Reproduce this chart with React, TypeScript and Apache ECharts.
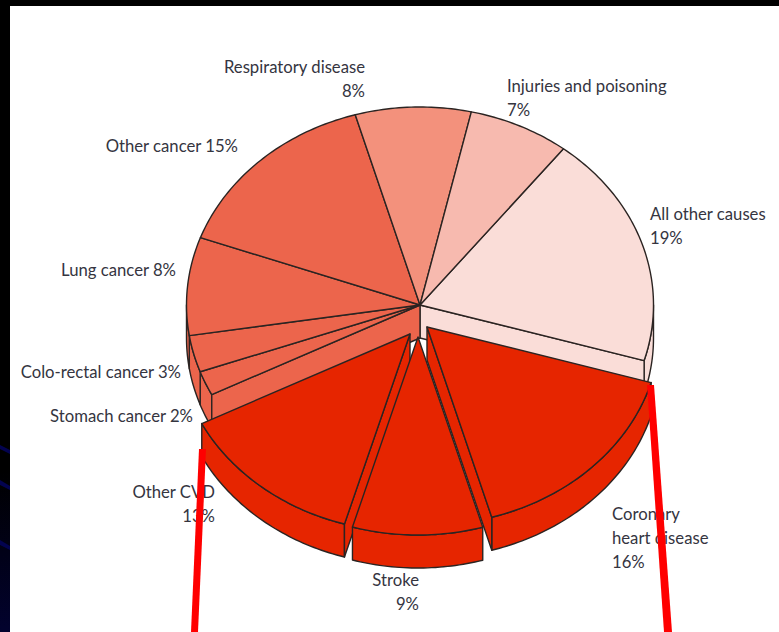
import React, { useEffect, useRef } from "react";
import * as echarts from "echarts";

// Share of deaths by cause, clockwise from the top-right slice.
const causes = [
  "All other causes",
  "Coronary\nheart disease",
  "Stroke",
  "Other CVD",
  "Stomach cancer",
  "Colo-rectal cancer",
  "Lung cancer",
  "Other cancer",
  "Respiratory disease",
  "Injuries and poisoning",
];
const shares = [19, 16, 9, 13, 2, 3, 8, 15, 8, 7];
const sliceColors = [
  "#FADDD8", "#E62500", "#E62500", "#E62500", "#EC654C",
  "#EC654C", "#EC654C", "#EC654C", "#F3917C", "#F7BAAF",
];
const separators = ["\n", "\n", "\n", "\n", " ", " ", " ", " ", "\n", "\n"];

// Screen offset of each pulled-out slice; the others stay in place.
const pulledOut: Record<number, [number, number]> = {
  1: [7, 22],
  2: [-2, 32],
  3: [-10, 29],
};

// Label anchors: x, vertical centre of the first line, alignment.
const labelAnchors: [number, number, string][] = [
  [650, 214, "left"],
  [612, 514, "left"],
  [419, 580, "right"],
  [215, 492, "right"],
  [193, 416, "right"],
  [181, 372, "right"],
  [176, 270, "right"],
  [238, 146, "right"],
  [365, 67, "right"],
  [507, 86, "left"],
];

const CX = 420;
const CY = 305;
const RX = 233.5;
const RY = 198;
const DEPTH = 33;
const FIRST_ANGLE = 37.9; // degrees clockwise from the top
const EDGE = "#2b2422";
const TEXT = "#35353f";

const total = shares.reduce((a, b) => a + b, 0);
const startAngles = shares.map(
  (_, i) => FIRST_ANGLE + (shares.slice(0, i).reduce((a, b) => a + b, 0) / total) * 360
);

type Pt = [number, number];
const rimPoint = (deg: number, ox: number, oy: number): Pt => {
  const t = (deg * Math.PI) / 180;
  return [CX + ox + RX * Math.sin(t), CY + oy - RY * Math.cos(t)];
};
const arcPoints = (from: number, to: number, ox: number, oy: number): Pt[] => {
  const n = Math.max(2, Math.ceil(Math.abs(to - from)));
  return Array.from({ length: n + 1 }, (_, k) =>
    rimPoint(from + ((to - from) * k) / n, ox, oy)
  );
};

const poly = (points: Pt[], fill: string, z2: number) => ({
  type: "polygon",
  shape: { points },
  z2,
  style: { fill, stroke: EDGE, lineWidth: 1.4, lineJoin: "round" },
});

// One slice: outer wall, visible cut faces and top face, all from its share.
function renderSlice(_params: any, api: any) {
  const i = _params.dataIndex;
  const share = api.value(0);
  const a0 = startAngles[i];
  const a1 = a0 + (share / total) * 360;
  const [ox, oy] = pulledOut[i] ?? [0, 0];
  const isOut = i in pulledOut;
  const z = isOut ? (i === 2 ? 30 : 20) : 2;
  const fill = sliceColors[i];
  const apex: Pt = [CX + ox, CY + oy];
  const children: any[] = [];

  // Only the lower half of the rim wall faces the viewer.
  const w0 = Math.max(a0, 90);
  const w1 = Math.min(a1, 270);
  if (w1 > w0) {
    const top = arcPoints(w0, w1, ox, oy);
    const bottom = arcPoints(w1, w0, ox, oy + DEPTH);
    children.push(poly([...top, ...bottom], fill, z));
  }

  const n = shares.length;
  const nextOut = ((i + 1) % n) in pulledOut;
  const prevOut = ((i - 1 + n) % n) in pulledOut;
  const face = (deg: number) => {
    const p = rimPoint(deg, ox, oy);
    return poly(
      [apex, p, [p[0], p[1] + DEPTH], [apex[0], apex[1] + DEPTH]],
      fill,
      z + 1
    );
  };
  // A radial face shows only when its outward normal points down the screen.
  const rad = (d: number) => (d * Math.PI) / 180;
  if ((isOut || nextOut) && Math.sin(rad(a1)) > 0) children.push(face(a1));
  if ((isOut || prevOut) && Math.sin(rad(a0)) < 0) children.push(face(a0));

  children.push(poly([apex, ...arcPoints(a0, a1, ox, oy)], fill, z + 2));

  return { type: "group", children };
}

function renderLabel(params: any, api: any) {
  const i = params.dataIndex;
  const [x, y, align] = labelAnchors[i];
  return {
    type: "text",
    z2: 1,
    style: {
      x,
      y: y - 12,
      text: `${causes[i]}${separators[i]}${api.value(0)}%`,
      fill: TEXT,
      font: '16.7px Lato, "Open Sans", sans-serif',
      lineHeight: 24,
      align,
      verticalAlign: "top",
    },
  };
}

const streaks: Pt[][] = [
  [[0, 445], [10, 450], [10, 454], [0, 449]],
  [[0, 480], [10, 486], [10, 490], [0, 485]],
  [[0, 540], [10, 546], [10, 550], [0, 545]],
];

export default function App() {
  const ref = useRef<HTMLDivElement>(null);

  useEffect(() => {
    if (!ref.current) return;
    const chart = echarts.init(ref.current, null, { renderer: "svg" });
    const rows = shares.map((v) => [v]);
    chart.setOption({
      animation: false,
      backgroundColor: "#000000",
      graphic: [
        {
          type: "rect",
          z: 0,
          silent: true,
          shape: { x: 0, y: 470, width: 10, height: 162 },
          style: {
            fill: {
              type: "linear", x: 0, y: 0, x2: 0, y2: 1,
              colorStops: [
                { offset: 0, color: "#000000" },
                { offset: 1, color: "#02022E" },
              ],
            },
          },
        },
        ...streaks.map((points) => ({
          type: "polygon",
          z: 0,
          silent: true,
          shape: { points },
          style: { fill: "#03034F" },
        })),
        {
          type: "rect",
          z: 0,
          silent: true,
          shape: { x: 10, y: 6, width: 769, height: 626 },
          style: { fill: "#FFFFFF" },
        },
        // Red pointer lines fanning out below the cardiovascular slices.
        {
          type: "polygon",
          z: 10,
          silent: true,
          shape: { points: [[199, 449], [206, 449], [198, 632], [191, 632]] },
          style: { fill: "#FF0000" },
        },
        {
          type: "polygon",
          z: 10,
          silent: true,
          shape: { points: [[647, 385], [654, 385], [672, 632], [664, 632]] },
          style: { fill: "#FF0000" },
        },
      ],
      series: [
        {
          type: "custom",
          coordinateSystem: "none",
          z: 3,
          silent: true,
          data: rows,
          renderItem: renderLabel,
        },
        {
          type: "custom",
          coordinateSystem: "none",
          z: 4,
          silent: true,
          data: rows,
          renderItem: renderSlice,
        },
      ],
    });
    return () => chart.dispose();
  }, []);

  return (
    <div
      ref={ref}
      style={{ position: "fixed", left: 0, top: 0, width: 779, height: 632 }}
    />
  );
}
